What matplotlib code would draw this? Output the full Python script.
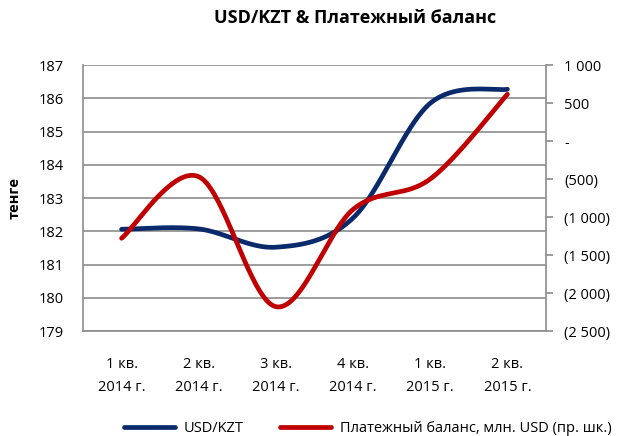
import numpy as np
import matplotlib
matplotlib.use("Agg")
import matplotlib.pyplot as plt
from matplotlib.ticker import FixedLocator

plt.rcParams['font.family'] = ['Open Sans', 'DejaVu Sans']

categories = ["1 кв.\n2014 г.", "2 кв.\n2014 г.", "3 кв.\n2014 г.",
              "4 кв.\n2014 г.", "1 кв.\n2015 г.", "2 кв.\n2015 г."]
usd_kzt = [182.06, 182.07, 181.52, 182.4, 185.85, 186.27]
balance = [-1280, -470, -2180, -900, -500, 615]
left_ticks = [179, 180, 181, 182, 183, 184, 185, 186, 187]
right_ticks = [-2500, -2000, -1500, -1000, -500, 0, 500, 1000]
right_labels = ["(2 500)", "(2 000)", "(1 500)", "(1 000)", "(500)", "-", "500", "1 000"]


def smooth(y, n=40):
    y = np.asarray(y, dtype=float)
    x = np.arange(len(y), dtype=float)
    pts = np.column_stack([x, y])
    out = []
    for i in range(len(pts) - 1):
        p0 = pts[i - 1] if i > 0 else pts[i]
        p1 = pts[i]
        p2 = pts[i + 1]
        p3 = pts[i + 2] if i + 2 < len(pts) else pts[i + 1]
        c1 = p1 + (p2 - p0) / 6.0
        c2 = p2 - (p3 - p1) / 6.0
        t = np.linspace(0, 1, n)[:, None]
        seg = ((1 - t) ** 3) * p1 + 3 * ((1 - t) ** 2) * t * c1 + 3 * (1 - t) * t ** 2 * c2 + t ** 3 * p2
        out.append(seg if i == 0 else seg[1:])
    s = np.vstack(out)
    return s[:, 0], s[:, 1]


fig = plt.figure(figsize=(6.39, 4.36), dpi=100)
ax = fig.add_axes([83 / 639, 1 - 331 / 436, (546 - 83) / 639, (331 - 65) / 436])
ax2 = ax.twinx()

gray = "#8c8c8c"
ax.set_ylim(179, 187)
ax.set_xlim(-0.5, len(categories) - 0.5)
ax.yaxis.set_major_locator(FixedLocator(left_ticks))
ax.set_yticklabels([str(t) for t in left_ticks])
ax.grid(axis='y', color=gray, linewidth=1.2)
ax.set_axisbelow(True)
ax.set_xticks(range(len(categories)))
ax.set_xticklabels(categories, linespacing=1.7)
ax.tick_params(axis='x', length=0, pad=19, labelsize=10.5)
ax.tick_params(axis='y', length=0, pad=14, labelsize=10.5)
ax.spines['top'].set_visible(False)
ax.spines['left'].set_color(gray)
ax.spines['bottom'].set_color(gray)
ax.spines['right'].set_visible(False)
ax.spines['left'].set_linewidth(1.2)
ax.spines['bottom'].set_linewidth(1.2)
ax.set_ylabel("тенге", fontweight='bold', fontsize=10.5, labelpad=12)

ax2.set_ylim(-2500, 1000)
ax2.yaxis.set_major_locator(FixedLocator(right_ticks))
ax2.set_yticklabels(right_labels)
ax2.tick_params(axis='y', length=5, color=gray, width=1.2, pad=8, labelsize=10.5)
for s in ['top', 'left', 'bottom']:
    ax2.spines[s].set_visible(False)
ax2.spines['right'].set_color(gray)
ax2.spines['right'].set_linewidth(1.2)

bx, by = smooth(usd_kzt)
l1, = ax.plot(bx, by, color="#0b2a6b", linewidth=3.4, solid_capstyle='round', label="USD/KZT", zorder=3)
rx, ry = smooth(balance)
l2, = ax2.plot(rx, ry, color="#c00000", linewidth=3.4, solid_capstyle='round',
               label="Платежный баланс, млн. USD (пр. шк.)", zorder=3)

fig.suptitle("USD/KZT & Платежный баланс", fontweight='bold', fontsize=13, y=0.98, x=0.555)

fig.legend([l1, l2], [l1.get_label(), l2.get_label()], loc='center', ncol=2,
           bbox_to_anchor=(0.575, 0.017), frameon=False, fontsize=10.5,
           handlelength=3.5, columnspacing=2.5, handletextpad=0.6)

fig.savefig("out.png", dpi=100)
